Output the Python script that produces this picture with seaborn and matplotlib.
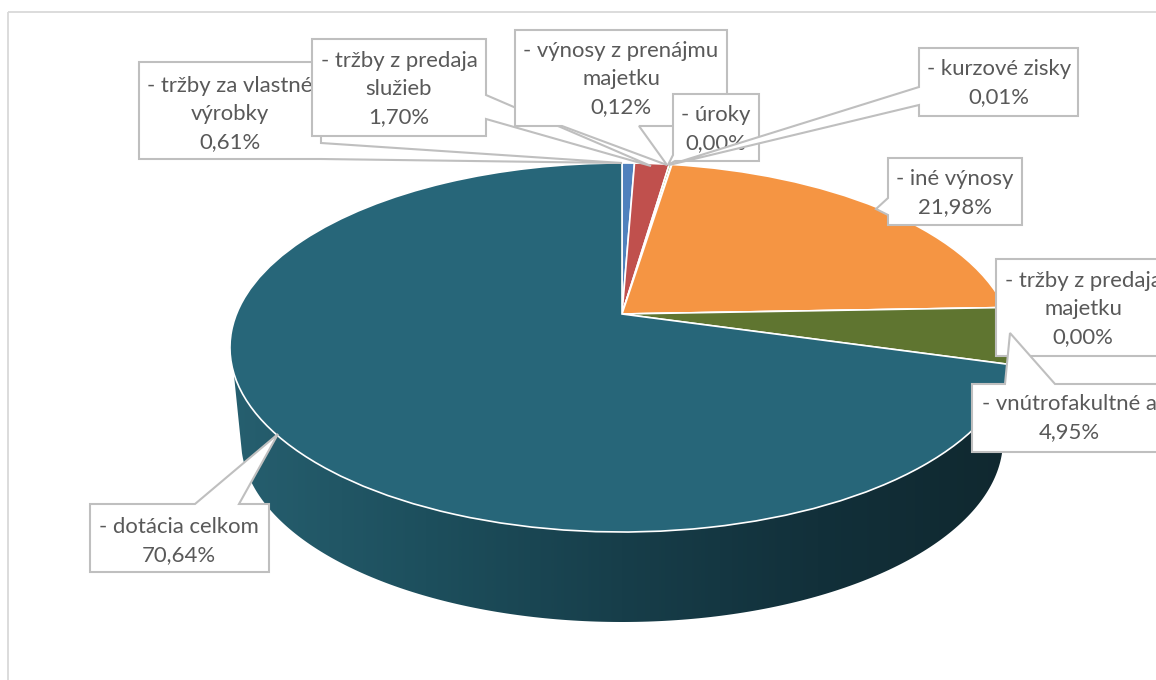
import numpy as np
import matplotlib
matplotlib.use("Agg")
import matplotlib.pyplot as plt
from matplotlib.patches import Polygon, Rectangle
from matplotlib.transforms import Transform
import seaborn as sns

# Data
CATEGORIES = [
    "- tržby za vlastné\nvýrobky",
    "- tržby z predaja\nslužieb",
    "- výnosy z prenájmu\nmajetku",
    "- úroky",
    "- kurzové zisky",
    "- iné výnosy",
    "- tržby z predaja\nmajetku",
    "- vnútrofakultné a",
    "- dotácia celkom",
]
VALUES = [0.61, 1.70, 0.12, 0.00, 0.01, 21.98, 0.00, 4.95, 70.64]
COLORS = ["#4f81bd", "#c0504d", "#9bbb59", "#8064a2", "#4bacc6",
          "#f59543", "#2c4d75", "#5f7530", "#276679"]
WALL_COLORS = ["#265f6f", "#1d4f5d", "#173e4a", "#12303a", "#10282f"]

# Callout outlines in pixels, same order as CATEGORIES
CALLOUTS = [
    [(139, 62), (321, 62), (321, 143), (622, 163), (321, 159), (139, 159)],
    [(312, 39), (486, 39), (486, 95), (651, 166), (486, 119), (486, 136), (312, 136)],
    [(515, 30), (727, 30), (727, 126), (639, 126), (667, 165), (562, 126), (515, 126)],
    [(673, 94), (759, 94), (759, 161), (675, 161), (668, 165), (673, 155)],
    [(919, 48), (1078, 48), (1078, 116), (919, 116), (919, 105), (669, 165), (919, 87)],
    [(888, 158), (1022, 158), (1022, 225), (888, 225), (888, 215), (876, 209), (888, 198)],
    [(996, 259), (1180, 259), (1180, 356), (996, 356)],
    [(972, 384), (1005, 384), (1010, 333), (1055, 384), (1180, 384), (1180, 452), (972, 452)],
    [(90, 504), (195, 504), (278, 434), (239, 504), (269, 504), (269, 572), (90, 572)],
]
TEXT_CENTERS = [(230, 114), (399, 89), (621, 79), (716, 129), (999, 83),
                (955, 193), (1083, 309), (1069, 418), (179, 541)]

# Pie geometry in pixels
CX, CY = 622, 314
TILT = 0.1816
RX, RY = 385.5, 178.4
LOW_CY, LOW_RX, LOW_RY = 440, 381, 182

GRAY = "#bfbfbf"
TEXT_GRAY = "#595959"


class TiltTransform(Transform):
    # unit circle -> tilted disc with perspective
    input_dims = 2
    output_dims = 2

    def transform_non_affine(self, pts):
        pts = np.asarray(pts, dtype=float)
        w = 1 + TILT * pts[:, 1]
        return np.column_stack([CX + RX * pts[:, 0] / w, CY - RY * pts[:, 1] / w])


def wall_outline():
    top = 373
    s_up = (top - (CY + 33.5)) / 184.5
    x_up = 392 * np.sqrt(1 - s_up ** 2)
    s_low = (453 - LOW_CY) / LOW_RY
    t = np.linspace(np.arcsin(s_low), np.pi - np.arcsin(s_low), 200)
    low = np.column_stack([CX + LOW_RX * np.cos(t), LOW_CY + LOW_RY * np.sin(t)])
    return np.vstack([[(CX + x_up, top)], low, [(CX - x_up, top)]])


sns.set_theme(style="white")
plt.rcParams["font.family"] = ["Lato", "DejaVu Sans"]

fig = plt.figure(figsize=(11.56, 6.8), dpi=100, facecolor="white")
ax = fig.add_axes([0, 0, 1, 1])

wedges, _ = ax.pie(
    VALUES,
    colors=COLORS,
    startangle=90,
    counterclock=False,
    wedgeprops={"edgecolor": "white", "linewidth": 1.2, "zorder": 3},
)
tilt = TiltTransform()
for wedge in wedges:
    wedge.set_transform(tilt + ax.transData)

# side wall with left-to-right shading
wall_cmap = sns.blend_palette(WALL_COLORS, as_cmap=True)
img = ax.imshow(
    np.linspace(0, 1, 400)[None, :],
    cmap=wall_cmap,
    extent=(CX - 392, CX + 392, 640, 360),
    aspect="auto",
    zorder=2,
)
wall = Polygon(wall_outline(), closed=True, transform=ax.transData, facecolor="none", edgecolor="none")
ax.add_patch(wall)
img.set_clip_path(wall)

ax.set_aspect("auto")
ax.set_xlim(0, 1156)
ax.set_ylim(680, 0)
ax.axis("off")

# chart frame
ax.add_patch(Rectangle((8, 12), 1200, 700, facecolor="none", edgecolor="#d9d9d9", linewidth=1.3, zorder=1))

for i, outline in enumerate(CALLOUTS):
    z = 5 + i
    ax.add_patch(Polygon(outline, closed=True, facecolor="white", edgecolor=GRAY,
                         linewidth=1.5, joinstyle="miter", zorder=z))
    label = f"{CATEGORIES[i]}\n{VALUES[i]:.2f}".replace(".", ",") + "%"
    ax.text(TEXT_CENTERS[i][0], TEXT_CENTERS[i][1], label, ha="center", va="center",
            multialignment="center", color=TEXT_GRAY, fontsize=15.9, linespacing=1.52,
            zorder=z + 0.5, clip_on=False)

fig.savefig("out.png", dpi=100)
